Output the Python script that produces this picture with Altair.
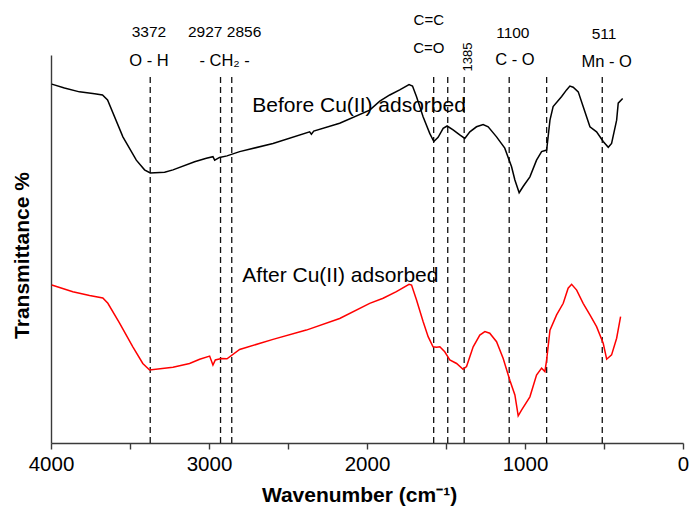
import altair as alt
import pandas as pd

# FTIR spectrum before adsorption (wavenumber in cm-1, transmittance in arbitrary %)
before_wn = [3995, 3915, 3820, 3724, 3674, 3642, 3545, 3460, 3408, 3372, 3281, 3228,
             3091, 3017, 2975, 2964, 2933, 2886, 2806, 2595, 2363, 2352, 2337, 2173,
             1983, 1919, 1856, 1793, 1734, 1712, 1687, 1645, 1603, 1577, 1550, 1518,
             1493, 1455, 1413, 1381, 1349, 1307, 1265, 1233, 1180, 1128, 1085, 1064,
             1037, 1012, 969, 927, 895, 863, 842, 822, 768, 737, 716, 695, 663, 632,
             589, 547, 505, 473, 452, 420, 410, 382]
before_t = [92.5, 91.5, 90.5, 90.0, 89.7, 88.4, 78.9, 72.9, 70.4, 69.6, 69.8, 70.4,
            72.5, 73.4, 73.8, 72.9, 73.6, 74.0, 75.1, 77.2, 80.2, 79.6, 80.4, 82.4,
            85.8, 88.1, 89.7, 91.0, 92.4, 92.0, 89.3, 84.1, 79.8, 77.7, 78.8, 81.1,
            81.7, 80.7, 79.4, 78.5, 80.2, 81.5, 82.1, 81.5, 78.9, 76.0, 71.2, 67.8,
            64.5, 66.1, 68.6, 72.9, 75.1, 75.5, 83.2, 86.7, 89.3, 91.0, 92.0, 91.7,
            90.5, 86.7, 81.5, 80.2, 77.7, 76.2, 77.2, 83.2, 87.6, 88.8]

# FTIR spectrum after adsorption
after_wn = [3995, 3862, 3756, 3672, 3640, 3566, 3482, 3419, 3376, 3228, 3123, 3059,
            2996, 2975, 2960, 2922, 2886, 2806, 2595, 2384, 2173, 1983, 1898, 1814,
            1734, 1718, 1687, 1645, 1613, 1582, 1560, 1539, 1508, 1476, 1433, 1392,
            1370, 1328, 1286, 1254, 1223, 1180, 1138, 1096, 1064, 1043, 1022, 969,
            927, 895, 874, 863, 842, 800, 758, 727, 705, 673, 632, 589, 547, 505,
            483, 452, 420, 395]
after_t = [40.7, 39.0, 38.0, 37.4, 36.0, 30.9, 24.8, 20.5, 18.8, 19.5, 20.5, 21.6,
           22.4, 20.1, 21.4, 21.8, 21.7, 24.1, 26.7, 29.1, 32.1, 36.0, 37.3, 39.0,
           40.9, 40.7, 36.9, 31.3, 27.4, 24.8, 24.7, 24.8, 23.5, 21.4, 20.5, 19.0,
           19.7, 24.8, 27.8, 28.7, 28.3, 26.1, 21.8, 16.2, 12.4, 7.0, 8.5, 11.9,
           17.5, 19.3, 18.4, 21.4, 29.1, 33.0, 36.0, 39.9, 40.9, 39.4, 36.0, 33.0,
           30.0, 25.7, 21.6, 22.7, 27.0, 32.6]

# Band positions marked with dashed guide lines
band_wn = [3372, 2927, 2856, 1578, 1489, 1385, 1100, 863, 511]
band_top = 94.5

# Band annotations: text, wavenumber, height, font size
label_text = ["3372", "2927 2856", "O - H", "- CH\u2082 -", "C=C", "C=O",
              "1100", "C - O", "511", "Mn - O"]
label_wn = [3380, 2901, 3380, 2901, 1609, 1609, 1077, 1064, 500, 483]
label_t = [104.7, 104.7, 97.2, 97.2, 107.7, 100.4, 104.3, 97.4, 104.0, 97.0]
label_size = [15.5, 15.5, 16.5, 16.5, 15, 15, 15.5, 16.5, 15.5, 16.5]

# Series captions
series_text = ["Before Cu(II) adsorbed", "After Cu(II) adsorbed"]
series_wn = [2726, 2789]
series_t = [85.2, 41.6]

FONT = "Liberation Sans"

spectra = pd.concat([
    pd.DataFrame({"wn": before_wn, "t": before_t, "series": "before"}),
    pd.DataFrame({"wn": after_wn, "t": after_t, "series": "after"}),
])
bands = pd.DataFrame({"wn": band_wn, "y0": 0, "y1": band_top})
labels = pd.DataFrame({"text": label_text, "wn": label_wn, "t": label_t, "size": label_size})
captions = pd.DataFrame({"text": series_text, "wn": series_wn, "t": series_t})
rotated = pd.DataFrame({"text": ["1385"], "wn": [1362], "t": [99.5]})

x_scale = alt.Scale(domain=[0, 4000], reverse=True, nice=False, zero=False)
y_scale = alt.Scale(domain=[0, 100], nice=False, zero=False)

x_axis = alt.Axis(
    title="Wavenumber (cm\u207b\u00b9)",
    values=list(range(0, 4001, 500)),
    labelExpr="datum.value % 1000 == 0 ? format(datum.value, 'd') : ''",
    grid=False, tickSize=6, labelPadding=5, labelFlush=False, labelOverlap=False,
    labelFontSize=20.5, labelFont=FONT, labelColor="#000000",
    titleFont=FONT, titleFontSize=21, titleFontWeight="bold", titleColor="#000000",
    titleX=308, titleY=58, titleBaseline="alphabetic", titleAnchor="start", titleAlign="center",
    domainColor="#3a3a3a", tickColor="#3a3a3a", domainWidth=1.4, tickWidth=1.4,
)
y_axis = alt.Axis(
    title="Transmittance %", labels=False, ticks=False, grid=False,
    titleFont=FONT, titleFontSize=21, titleFontWeight="bold", titleColor="#000000",
    titleX=-29, titleY=200, titleAlign="center", titleBaseline="middle", titleAngle=-90,
    domainColor="#3a3a3a", domainWidth=1.4,
)

lines = alt.Chart(spectra).mark_line(strokeWidth=1.5).encode(
    x=alt.X("wn:Q", scale=x_scale, axis=x_axis),
    y=alt.Y("t:Q", scale=y_scale, axis=y_axis),
    color=alt.Color("series:N", scale=alt.Scale(domain=["before", "after"],
                                                range=["#000000", "#ff0000"]), legend=None),
    order=alt.Order("wn:Q", sort="descending"),
)

guides = alt.Chart(bands).mark_rule(color="#111111", strokeWidth=1.3, strokeDash=[6, 4]).encode(
    x="wn:Q", y="y0:Q", y2="y1:Q",
)

band_labels = alt.Chart(labels).mark_text(font=FONT, baseline="alphabetic", align="center",
                                          color="#000000").encode(
    x="wn:Q", y="t:Q", text="text:N", size=alt.Size("size:Q", scale=None),
)

band_rotated = alt.Chart(rotated).mark_text(font=FONT, fontSize=13, angle=270, align="center",
                                            baseline="middle", color="#000000").encode(
    x="wn:Q", y="t:Q", text="text:N",
)

series_labels = alt.Chart(captions).mark_text(font=FONT, fontSize=21, align="left",
                                              baseline="alphabetic", color="#000000").encode(
    x="wn:Q", y="t:Q", text="text:N",
)

chart = alt.layer(guides, lines, band_labels, band_rotated, series_labels).properties(
    width=632, height=388,
    padding={"left": 51, "top": 55, "right": 6, "bottom": 65},
    autosize=alt.AutoSizeParams(type="none"),
    background="#ffffff",
).configure_view(stroke=None)

chart.save("out.html", embed_options={"renderer": "svg", "actions": False})
